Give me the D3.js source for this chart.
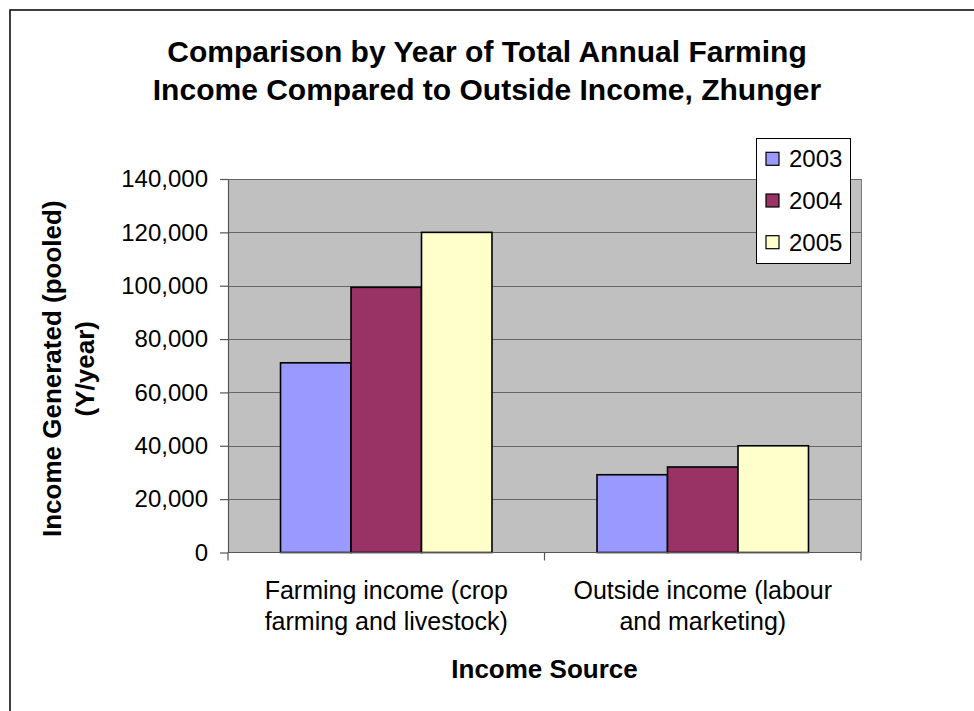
<!DOCTYPE html>
<html>
<head>
<meta charset="utf-8">
<script src="https://cdn.jsdelivr.net/npm/d3@7"></script>
<style>
  html, body { margin: 0; padding: 0; background: #ffffff; }
  svg { display: block; font-family: Arial, "Liberation Sans", Helvetica, sans-serif; }
</style>
</head>
<body>
<svg id="chart" width="974" height="711"></svg>
<script>
// Pooled income (Y/year) by income source and year
const categories = [
  ["Farming income (crop", "farming and livestock)"],
  ["Outside income (labour", "and marketing)"]
];
const years = ["2003", "2004", "2005"];
const farmingIncome = [71100, 99400, 120000];
const outsideIncome = [29150, 32050, 40000];
const seriesColors = ["#9999FF", "#993366", "#FFFFCC"];
const yTicks = [0, 20000, 40000, 60000, 80000, 100000, 120000, 140000];

const rows = [farmingIncome, outsideIncome].map((vals, i) => ({
  key: i,
  values: years.map((y, j) => ({ year: y, value: vals[j] }))
}));

const svg = d3.select("#chart");
const plot = { left: 228, right: 861, top: 179, bottom: 552.5 };

// Outer frame (only top and left edges fall inside the page)
svg.append("rect")
  .attr("x", 10).attr("y", 10)
  .attr("width", 1100).attr("height", 1100)
  .attr("fill", "none").attr("stroke", "#000").attr("stroke-width", 1.5);

// Title
const title = svg.append("text")
  .attr("text-anchor", "middle")
  .attr("font-weight", "bold")
  .attr("font-size", 30)
  .attr("fill", "#000");
title.append("tspan").attr("x", 487).attr("y", 62).text("Comparison by Year of Total Annual Farming");
title.append("tspan").attr("x", 487).attr("y", 100).text("Income Compared to Outside Income, Zhunger");

// Scales
const x0 = d3.scaleBand()
  .domain(d3.range(categories.length))
  .range([plot.left, plot.right])
  .paddingInner(0).paddingOuter(0);
const x1 = d3.scaleBand()
  .domain(years)
  .range([0, x0.bandwidth()])
  .paddingInner(0).paddingOuter(0.745);
const y = d3.scaleLinear().domain([0, 140000]).range([plot.bottom, plot.top]);
const color = d3.scaleOrdinal().domain(years).range(seriesColors);

// Plot area background
svg.append("rect")
  .attr("x", plot.left).attr("y", plot.top)
  .attr("width", plot.right - plot.left).attr("height", plot.bottom - plot.top)
  .attr("fill", "#C0C0C0");

// Gridlines
svg.append("g")
  .selectAll("line")
  .data(yTicks.filter(d => d > 0))
  .join("line")
  .attr("x1", plot.left).attr("x2", plot.right)
  .attr("y1", d => Math.round(y(d)) + 0.5).attr("y2", d => Math.round(y(d)) + 0.5)
  .attr("stroke", "#666666").attr("stroke-width", 1);

// Right border of the plot area
svg.append("line")
  .attr("x1", plot.right + 0.5).attr("x2", plot.right + 0.5)
  .attr("y1", plot.top).attr("y2", plot.bottom)
  .attr("stroke", "#7a7a7a").attr("stroke-width", 1);

// Bars
const groups = svg.append("g")
  .selectAll("g")
  .data(rows)
  .join("g")
  .attr("transform", d => `translate(${x0(d.key)},0)`);
groups.selectAll("rect")
  .data(d => d.values)
  .join("rect")
  .attr("x", d => x1(d.year))
  .attr("y", d => y(d.value))
  .attr("width", x1.bandwidth())
  .attr("height", d => y(0) - y(d.value))
  .attr("fill", d => color(d.year))
  .attr("stroke", "#000").attr("stroke-width", 1.6);

// Y axis
const yAxis = svg.append("g")
  .attr("transform", `translate(${plot.left},0)`)
  .call(d3.axisLeft(y).tickValues(yTicks).tickFormat(d3.format(",")).tickSizeInner(8).tickSizeOuter(0).tickPadding(12));
yAxis.select(".domain").attr("stroke", "#555").attr("stroke-width", 1.2);
yAxis.selectAll(".tick line").attr("stroke", "#555").attr("stroke-width", 1.2);
yAxis.selectAll(".tick text")
  .attr("font-size", 24).attr("fill", "#000")
  .attr("font-family", "Arial, 'Liberation Sans', sans-serif");

// X axis: baseline with ticks between categories
const xEdges = d3.range(categories.length + 1).map(i => plot.left + i * x0.step());
svg.append("line")
  .attr("x1", plot.left).attr("x2", plot.right)
  .attr("y1", y(0)).attr("y2", y(0))
  .attr("stroke", "#555").attr("stroke-width", 1.2);
svg.append("g")
  .selectAll("line")
  .data(xEdges)
  .join("line")
  .attr("x1", d => d).attr("x2", d => d)
  .attr("y1", y(0)).attr("y2", y(0) + 8)
  .attr("stroke", "#555").attr("stroke-width", 1.2);

// Category labels
const catLabels = svg.append("g")
  .selectAll("text")
  .data(categories)
  .join("text")
  .attr("text-anchor", "middle")
  .attr("font-size", 25)
  .attr("fill", "#000");
catLabels.each(function(lines, i) {
  const cx = x0(i) + x0.bandwidth() / 2;
  d3.select(this).selectAll("tspan")
    .data(lines)
    .join("tspan")
    .attr("x", cx)
    .attr("y", (d, k) => 599 + k * 31)
    .text(d => d);
});

// Axis titles
svg.append("text")
  .attr("x", (plot.left + plot.right) / 2).attr("y", 678)
  .attr("text-anchor", "middle")
  .attr("font-weight", "bold").attr("font-size", 26)
  .text("Income Source");

const yTitle = svg.append("text")
  .attr("transform", `translate(0,${(plot.top + plot.bottom) / 2 + 3}) rotate(-90)`)
  .attr("text-anchor", "middle")
  .attr("font-weight", "bold").attr("font-size", 26);
yTitle.append("tspan").attr("x", 0).attr("y", 61).text("Income Generated (pooled)");
yTitle.append("tspan").attr("x", 0).attr("y", 94).text("(Y/year)");

// Legend
const legend = svg.append("g").attr("transform", "translate(756,138)");
legend.append("rect")
  .attr("x", 0.5).attr("y", 0.5)
  .attr("width", 94).attr("height", 125)
  .attr("fill", "#fff").attr("stroke", "#000").attr("stroke-width", 1);
const items = legend.selectAll("g.item")
  .data(years)
  .join("g")
  .attr("class", "item")
  .attr("transform", (d, i) => `translate(0,${20.8 + i * 41.7})`);
items.append("rect")
  .attr("x", 10).attr("y", -6.5)
  .attr("width", 13).attr("height", 13)
  .attr("fill", d => color(d))
  .attr("stroke", "#000").attr("stroke-width", 1.2);
items.append("text")
  .attr("x", 33).attr("y", 8.5)
  .attr("font-size", 24)
  .text(d => d);
</script>
</body>
</html>
